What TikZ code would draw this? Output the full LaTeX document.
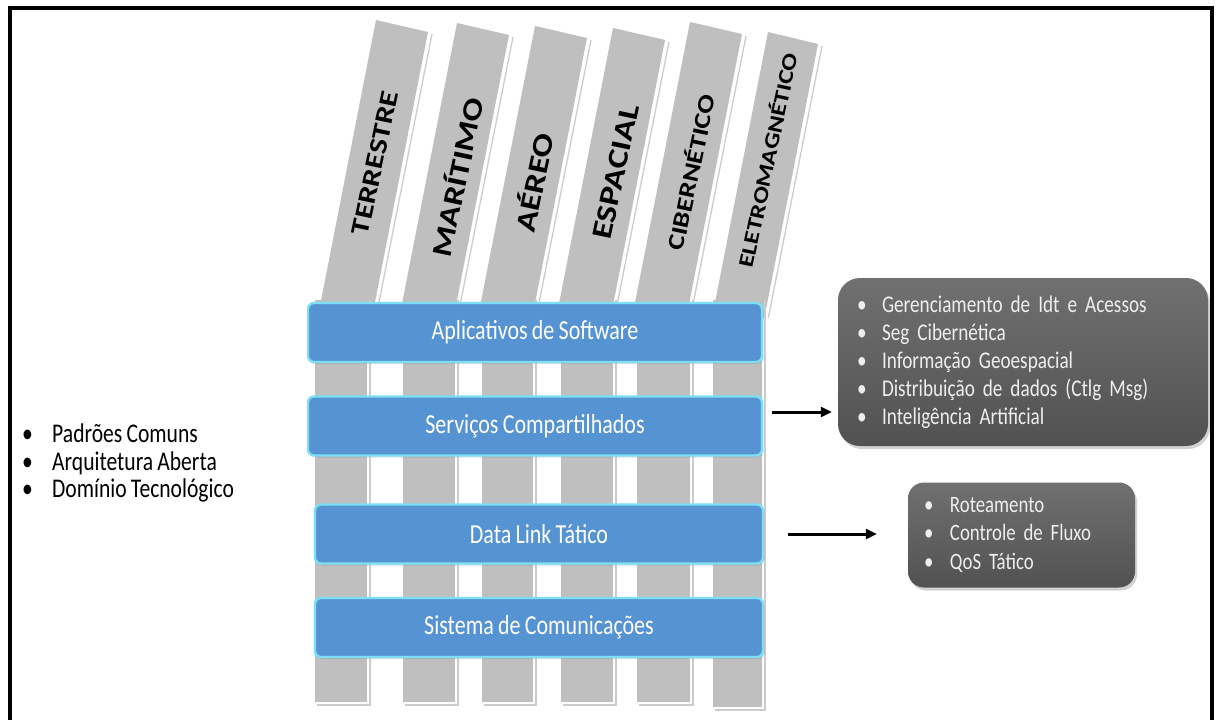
\documentclass[tikz,border=0pt]{standalone}
\usepackage{fontspec}
\setmainfont{Carlito}[FakeStretch=0.8, WordSpace=0.85]
\newfontfamily\domfont{Carlito}[FakeStretch=1.25]
\usetikzlibrary{shadows,arrows.meta}

\definecolor{stripgray}{HTML}{BFBFBF}
\definecolor{barblue}{HTML}{5693D2}
\definecolor{barrim}{HTML}{7CE0F5}
\definecolor{boxtext}{HTML}{EEEEEE}

% one bulleted line, kept as a single unbreakable box
\newcommand\itm[2][25pt]{\mbox{\makebox[#1][l]{•}#2}}

\tikzset{
  strip/.style={fill=stripgray, draw=none},
  glint/.style={draw=black!20, line width=1.3pt},
  domlabel/.style={text=black, inner sep=0pt, rotate=78},
  layer/.style={fill=barblue, draw=barrim, line width=2.4pt, rounded corners=6pt,
    minimum height=59pt, inner sep=0pt, text=white,
    font=\fontsize{27.5}{30}\selectfont,
    drop shadow={shadow xshift=1.5pt, shadow yshift=-2pt, opacity=0.25}},
  infobox/.style={top color=black!56, bottom color=black!68, draw=none, text=boxtext,
    align=left, inner sep=0pt,
    drop shadow={shadow xshift=2pt, shadow yshift=-3pt, opacity=0.35}},
  flow/.style={draw=black, line width=3pt, -{Triangle[length=11pt,width=10pt]}},
  bullets/.style={align=left, inner sep=0pt, text=black}
}

\begin{document}
\begin{tikzpicture}[x=1pt, y=-1pt]
\useasboundingbox[fill=white] (0,0) rectangle (1216,720);

% tilted upper parts of the six domain strips
\foreach \tlx/\tly/\trx/\try/\blx/\brx in {
  376/20/428/32/317.6/371.9,
  457/23/509/35/399.2/453.5,
  535/26/587/38/477.8/532.1,
  613/28/665/40/556.2/610.5,
  690/22/742/34/632/686.3,
  768/32/818/44/712/764.3}{
  \fill[strip] (\tlx,\tly) -- (\trx,\try) -- (\brx,318) -- (\blx,318) -- cycle;
  \draw[glint] (\trx+4,\try+2) -- (\brx+4,318);
}

% vertical lower parts of the strips
\foreach \l/\r/\b in {315/367/702, 403/455/702, 482/533/702, 561/613/702, 637/690/702, 713/762/707}{
  \fill[strip] (\l,300) rectangle (\r,\b);
  \draw[glint] (\r+3,300) -- (\r+3,\b+3) -- (\l+2,\b+3);
}

% domain names along the strips
\node[domlabel, font=\domfont\bfseries\fontsize{25.5}{26}\selectfont] (terra)  at (375,163) {TERRESTRE};
\node[domlabel, font=\domfont\bfseries\fontsize{28}{28}\selectfont]   (mar)    at (456,177) {MARÍTIMO};
\node[domlabel, font=\domfont\bfseries\fontsize{28.5}{28}\selectfont] (ar)     at (533,182) {AÉREO};
\node[domlabel, font=\domfont\bfseries\fontsize{28.5}{28}\selectfont] (espaco) at (616,172) {ESPACIAL};
\node[domlabel, font=\domfont\bfseries\fontsize{23}{23}\selectfont]   (ciber)  at (690,172) {CIBERNÉTICO};
\node[domlabel, font=\domfont\bfseries\fontsize{21}{21}\selectfont]   (eletro) at (767,160) {ELETROMAGNÉTICO};

% horizontal layers
\node[layer, minimum width=454pt] (apps)  at (535,332.5) {Aplicativos de Software};
\node[layer, minimum width=454pt] (svc)   at (535,426)   {Serviços Compartilhados};
\node[layer, minimum width=448pt] (dlink) at (539,534)   {Data Link Tático};
\node[layer, minimum width=448pt] (comms) at (539,627.5) {Sistema de Comunicações};

% detail boxes
\node[infobox, rounded corners=22pt, minimum width=370pt, minimum height=168pt, text width=332pt,
      font=\fontsize{24}{28}\selectfont] (svcbox) at (1023,362) {%
  \itm{Gerenciamento de Idt e Acessos}\\
  \itm{Seg Cibernética}\\
  \itm{Informação Geoespacial}\\
  \itm{Distribuição de dados (Ctlg Msg)}\\
  \itm{Inteligência Artificial}};
\node[infobox, rounded corners=16pt, minimum width=227pt, minimum height=105pt, text width=195pt,
      font=\fontsize{23.5}{28.5}\selectfont] (linkbox) at (1021.5,535) {%
  \itm[26pt]{Roteamento}\\
  \itm[26pt]{Controle de Fluxo}\\
  \itm[26pt]{QoS Tático}};

% general principles on the left
\node[bullets, anchor=west, font=\fontsize{27}{27.5}\selectfont] (principles) at (22,463) {%
  \itm[30pt]{Padrões Comuns}\\
  \itm[30pt]{Arquitetura Aberta}\\
  \itm[30pt]{Domínio Tecnológico}};

% arrows to the detail boxes
\coordinate (svcout) at (772,412);
\draw[flow, shorten >=6pt] (svcout) -- (svcout -| svcbox.west);
\draw[flow, shorten <=24pt, shorten >=31pt] (dlink.east) -- (dlink.east -| linkbox.west);

% frame
\draw[line width=4pt, line join=miter] (9.5,730) -- (9.5,8) -- (1212,8) -- (1212,730);
\end{tikzpicture}
\end{document}
